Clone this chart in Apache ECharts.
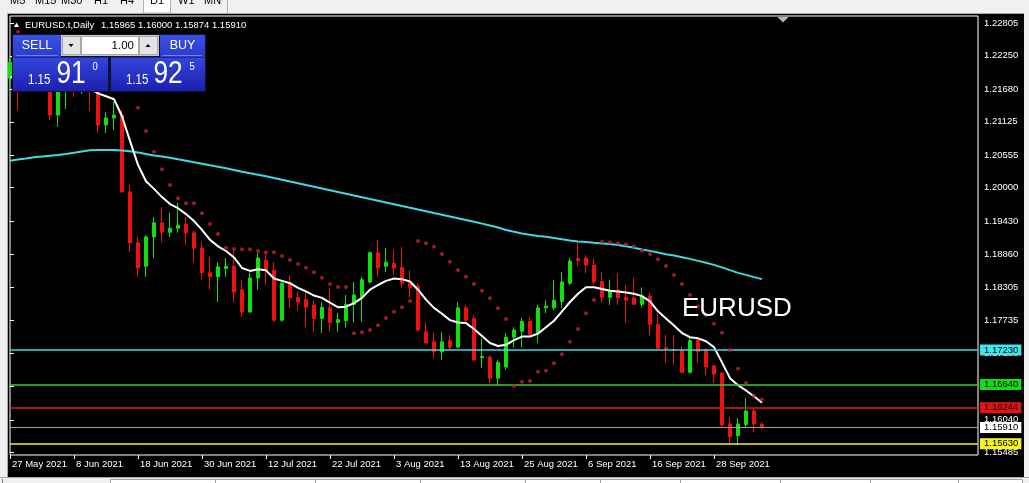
<!DOCTYPE html>
<html><head><meta charset="utf-8">
<script src="https://cdn.jsdelivr.net/npm/echarts@6/dist/echarts.min.js"></script>
<style>html,body{margin:0;padding:0;background:#f0f0f0;overflow:hidden}#c{width:1029px;height:483px;}</style>
</head><body><div id="c"></div>
<script>
const dates = ['27 May 2021','28 May 2021','31 May 2021','1 Jun 2021','2 Jun 2021','3 Jun 2021','4 Jun 2021','7 Jun 2021','8 Jun 2021','9 Jun 2021',
'10 Jun 2021','11 Jun 2021','14 Jun 2021','15 Jun 2021','16 Jun 2021','17 Jun 2021','18 Jun 2021','21 Jun 2021','22 Jun 2021','23 Jun 2021',
'24 Jun 2021','25 Jun 2021','28 Jun 2021','29 Jun 2021','30 Jun 2021','1 Jul 2021','2 Jul 2021','5 Jul 2021','6 Jul 2021','7 Jul 2021',
'8 Jul 2021','9 Jul 2021','12 Jul 2021','13 Jul 2021','14 Jul 2021','15 Jul 2021','16 Jul 2021','19 Jul 2021','20 Jul 2021','21 Jul 2021',
'22 Jul 2021','23 Jul 2021','26 Jul 2021','27 Jul 2021','28 Jul 2021','29 Jul 2021','30 Jul 2021','2 Aug 2021','3 Aug 2021','4 Aug 2021',
'5 Aug 2021','6 Aug 2021','9 Aug 2021','10 Aug 2021','11 Aug 2021','12 Aug 2021','13 Aug 2021','16 Aug 2021','17 Aug 2021','18 Aug 2021',
'19 Aug 2021','20 Aug 2021','23 Aug 2021','24 Aug 2021','25 Aug 2021','26 Aug 2021','27 Aug 2021','30 Aug 2021','31 Aug 2021','1 Sep 2021',
'2 Sep 2021','3 Sep 2021','6 Sep 2021','7 Sep 2021','8 Sep 2021','9 Sep 2021','10 Sep 2021','13 Sep 2021','14 Sep 2021','15 Sep 2021',
'16 Sep 2021','17 Sep 2021','20 Sep 2021','21 Sep 2021','22 Sep 2021','23 Sep 2021','24 Sep 2021','27 Sep 2021','28 Sep 2021','29 Sep 2021',
'30 Sep 2021','1 Oct 2021','4 Oct 2021','5 Oct 2021','6 Oct 2021'];

const open = [1.2187,1.2195,1.2191,1.2225,1.2212,1.2208,1.2124,1.2167,1.2190,1.2171,
1.2180,1.2175,1.2107,1.2119,1.2124,1.1993,1.1906,1.1866,1.1916,1.1940,
1.1924,1.1931,1.1938,1.1923,1.1897,1.1855,1.1848,1.1862,1.1866,1.1826,
1.1788,1.1846,1.1876,1.1859,1.1774,1.1837,1.1813,1.1809,1.1800,1.1777,
1.1795,1.1770,1.1773,1.1801,1.1813,1.1839,1.1889,1.1866,1.1871,1.1864,
1.1837,1.1832,1.1754,1.1737,1.1720,1.1739,1.1728,1.1795,1.1777,1.1710,
1.1711,1.1675,1.1694,1.1745,1.1755,1.1772,1.1752,1.1795,1.1795,1.1806,
1.1837,1.1879,1.1880,1.1868,1.1840,1.1813,1.1825,1.1813,1.1812,1.1801,
1.1815,1.1767,1.1727,1.1724,1.1722,1.1685,1.1740,1.1723,1.1696,1.1684,
1.1597,1.1577,1.1596,1.1619,1.15965];
const high = [1.2225,1.2213,1.2244,1.2255,1.2230,1.2212,1.2184,1.2195,1.2200,1.2190,
1.2195,1.2180,1.2129,1.2146,1.2133,1.2005,1.1916,1.1919,1.1950,1.1967,
1.1957,1.1974,1.1950,1.1926,1.1907,1.1882,1.1873,1.1880,1.1894,1.1843,
1.1855,1.1889,1.1889,1.1873,1.1842,1.1851,1.1822,1.1822,1.1808,1.1805,
1.1830,1.1787,1.1817,1.1839,1.1848,1.1891,1.1911,1.1897,1.1894,1.1899,
1.1859,1.1837,1.1770,1.1752,1.1754,1.1749,1.1805,1.1800,1.1782,1.1743,
1.1714,1.1706,1.1752,1.1762,1.1778,1.1779,1.1800,1.1808,1.1843,1.1856,
1.1880,1.1907,1.1885,1.1880,1.1856,1.1843,1.1854,1.1834,1.1846,1.1830,
1.1820,1.1786,1.1749,1.1749,1.1730,1.1745,1.1745,1.1726,1.1697,1.1685,
1.1609,1.1607,1.1641,1.1624,1.16000];
const low = [1.2165,1.2132,1.2185,1.2200,1.2185,1.2116,1.2104,1.2134,1.2155,1.2160,
1.2131,1.2093,1.2093,1.2098,1.1991,1.1890,1.1848,1.1848,1.1880,1.1907,
1.1916,1.1923,1.1902,1.1873,1.1843,1.1826,1.1805,1.1848,1.1805,1.1779,
1.1786,1.1826,1.1834,1.1771,1.1771,1.1795,1.1791,1.1762,1.1754,1.1752,
1.1754,1.1754,1.1761,1.1770,1.1771,1.1837,1.1848,1.1856,1.1851,1.1830,
1.1812,1.1754,1.1733,1.1710,1.1706,1.1723,1.1726,1.1770,1.1704,1.1692,
1.1666,1.1663,1.1689,1.1728,1.1728,1.1745,1.1735,1.1786,1.1791,1.1795,
1.1834,1.1866,1.1854,1.1834,1.1803,1.1800,1.1800,1.1770,1.1800,1.1796,
1.1748,1.1723,1.1701,1.1698,1.1683,1.1683,1.1701,1.1680,1.1667,1.1590,
1.1561,1.1561,1.1590,1.1583,1.15874];
const close = [1.2214,1.2191,1.2225,1.2212,1.2208,1.2124,1.2167,1.2190,1.2171,1.2180,
1.2175,1.2107,1.2119,1.2124,1.1993,1.1906,1.1863,1.1916,1.1940,1.1924,
1.1931,1.1936,1.1923,1.1897,1.1855,1.1848,1.1865,1.1866,1.1822,1.1788,
1.1846,1.1880,1.1859,1.1774,1.1837,1.1812,1.1805,1.1796,1.1777,1.1796,
1.1770,1.1775,1.1801,1.1817,1.1843,1.1889,1.1863,1.1873,1.1863,1.1837,
1.1830,1.1757,1.1735,1.1720,1.1737,1.1728,1.1795,1.1774,1.1706,1.1712,
1.1675,1.1702,1.1745,1.1757,1.1772,1.1750,1.1795,1.1798,1.1808,1.1839,
1.1875,1.1876,1.1868,1.1839,1.1813,1.1825,1.1812,1.1808,1.1801,1.1815,
1.1767,1.1726,1.1725,1.1722,1.1685,1.1739,1.1720,1.1694,1.1682,1.1595,
1.1575,1.1597,1.1619,1.1597,1.15910];

const maFast = [1.2188,1.2190,1.2192,1.2193,1.2194,1.2190,1.2186,1.2183,1.2180,1.2176,
1.2170,1.2161,1.2156,1.2151,1.2122,1.2080,1.2039,1.2011,1.1998,1.1984,
1.1972,1.1965,1.1955,1.1943,1.1928,1.1911,1.1900,1.1892,1.1881,1.1863,
1.1858,1.1861,1.1859,1.1845,1.1841,1.1837,1.1829,1.1823,1.1816,1.1812,
1.1804,1.1796,1.1797,1.1803,1.1812,1.1826,1.1834,1.1841,1.1845,1.1844,
1.1840,1.1826,1.1809,1.1795,1.1785,1.1774,1.1770,1.1769,1.1759,1.1747,
1.1735,1.1730,1.1732,1.1740,1.1746,1.1746,1.1751,1.1762,1.1773,1.1789,
1.1805,1.1819,1.1830,1.1830,1.1827,1.1824,1.1823,1.1821,1.1819,1.1815,
1.1806,1.1789,1.1777,1.1765,1.1752,1.1745,1.1743,1.1738,1.1728,1.1702,
1.1675,1.1663,1.1654,1.1644,1.1633];

const maSlow = [1.20460,1.20481,1.20498,1.20518,1.20532,1.20546,1.20558,1.20575,1.20595,1.20617,
1.20638,1.20643,1.20643,1.20643,1.20634,1.20623,1.20600,1.20575,1.20549,1.20532,
1.20510,1.20484,1.20460,1.20435,1.20409,1.20382,1.20356,1.20331,1.20302,1.20273,
1.20246,1.20222,1.20196,1.20166,1.20137,1.20106,1.20077,1.20046,1.20017,1.19987,
1.19958,1.19927,1.19898,1.19867,1.19838,1.19808,1.19779,1.19748,1.19719,1.19688,
1.19659,1.19628,1.19599,1.19569,1.19540,1.19509,1.19480,1.19450,1.19419,1.19387,
1.19354,1.19322,1.19279,1.19250,1.19220,1.19198,1.19177,1.19165,1.19143,1.19121,
1.19101,1.19084,1.19072,1.19060,1.19050,1.19038,1.19024,1.19002,1.18976,1.18947,
1.18922,1.18893,1.18866,1.18842,1.18815,1.18786,1.18752,1.18718,1.18683,1.18641,
1.18593,1.18547,1.18513,1.18474,1.18440];

const sar = [null,1.22662,1.2255,1.2250,1.2246,1.2242,1.2236,1.2230,1.2224,1.2218,
1.2212,1.2204,1.2196,1.2188,1.2180,1.2170,1.21365,1.20967,1.20614,1.20314,
1.20046,1.19819,1.19734,1.19734,1.19563,1.19381,1.19210,1.18976,1.18954,1.18949,
1.18949,1.18920,1.18898,1.18898,1.18834,1.18766,1.18698,1.18635,1.18556,1.18464,
1.18357,1.18306,1.18306,1.17516,1.17533,1.17572,1.17652,1.17777,1.17884,1.17959,
1.18067,1.19090,1.19051,1.18993,1.18869,1.18737,1.18596,1.18481,1.18357,1.18242,
1.18113,1.17942,1.17760,1.16616,1.16690,1.16702,1.16860,1.16877,1.17004,1.17157,
1.17372,1.17589,1.17857,1.18084,1.19078,1.19068,1.19051,1.19034,1.18997,1.18925,
1.18869,1.18778,1.18664,1.18510,1.18357,1.18169,1.17976,1.17828,1.17678,1.17526,
1.17231,1.16910,1.16667,1.16449,1.16391];

const yTicks = [1.22805,1.22250,1.21680,1.21125,1.20555,1.20000,1.19430,1.18860,1.18305,1.17735,1.17180,1.16610,1.16040,1.15485];
const xTickIdx = [0,8,16,24,32,40,48,56,64,72,80,88];
const levels = [1.17230,1.16640,1.16244,1.15910,1.15630];
const headerSymbol = 'EURUSD.t,Daily';
const headerQuote = ['1.15965','1.16000','1.15874','1.15910'];
const bidParts = ['1.15','91','0'];
const askParts = ['1.15','92','5'];
const lotText = '1.00';
const periods = ['M5','M15','M30','H1','H4','D1','W1','MN'];
const chartLabel = 'EURUSD';

const F = "'Liberation Sans', Arial, sans-serif";
const lineColors = ['#3fd9e2','#3cc83c','#e41414','#a0a0a0','#f0f020'];
const boxColors = ['#3fe6f0','#10e010','#e41414','#ffffff','#f4f420'];

const chart = echarts.init(document.getElementById('c'), null, {renderer:'canvas'});

const candles = dates.map((d,i)=>[i, open[i], close[i], low[i], high[i]]);
const sarData = [];
sar.forEach((v,i)=>{ if(v!=null) sarData.push([i,v]); });

const gray = '#f0f0f0';
const G = [];
function rect(x,y,w,h,fill,stroke,z){ G.push({type:'rect', shape:{x,y,width:w,height:h}, style:{fill, stroke:stroke||null, lineWidth:1}, z:z||100, silent:true}); }
function txt(x,y,t,size,fill,opts){ opts=opts||{}; G.push({type:'text', x, y, scaleX:opts.sx||1, z:opts.z||102, silent:true,
  style:{text:t, fill, font:`${opts.weight||'normal'} ${size}px ${F}`, align:opts.align||'left', verticalAlign:opts.va||'middle'}}); }
function poly(pts,fill,z){ G.push({type:'polygon', shape:{points:pts}, style:{fill}, z:z||103, silent:true}); }

// outer chrome
rect(0,0,1029,13,gray);
rect(0,13,1029,1,'#a8a8a8');
rect(0,0,7,483,gray);
rect(7,13,1,465,'#a8a8a8');
rect(1024,0,5,483,gray);
rect(0,477,1029,6,gray);
rect(0,477,1029,1,'#a8a8a8');
rect(110.5,479.5,912,6,'#ffffff','#a0a0a0');
[215,315,420,525,600,680,780,870,958].forEach(x=>rect(x,479,1,4,'#a0a0a0'));
rect(2,479,1,4,'#808080');
// period tabs
rect(143.5,-1,27,14,'#ffffff','#b0b0b0',101);
rect(227,0,1,13,'#b0b0b0',null,101);
const tabX = [10,35,61,94,120,150,178,204];
periods.forEach((p,k)=>txt(tabX[k],6,p,11,'#000',{va:'bottom'}));
// chart shift marker
poly([[777.5,17],[788.5,17],[783,22.5]],'#b8b8b8');
// header
poly([[14,27],[16.5,22.5],[19,27]],'#ffffff');
txt(25,25.5,headerSymbol,9.5,'#ffffff');
txt(101,25.5,headerQuote.join(' '),9.5,'#ffffff');
// one-click trading panel
rect(12,34,194,58,'#101030',null,100);
G.push({type:'rect', shape:{x:13,y:35,width:48,height:22}, style:{fill:new echarts.graphic.LinearGradient(0,0,0,1,[{offset:0,color:'#3a50e4'},{offset:1,color:'#2a3cd0'}])}, z:101, silent:true});
G.push({type:'rect', shape:{x:160,y:35,width:45,height:22}, style:{fill:new echarts.graphic.LinearGradient(0,0,0,1,[{offset:0,color:'#3a50e4'},{offset:1,color:'#2a3cd0'}])}, z:101, silent:true});
rect(16,55,42,1,'#7080f0',null,101);
rect(163,55,39,1,'#7080f0',null,101);
rect(61,35,98,21,'#c8c8c8',null,101);
rect(62.5,36.5,18,18,'#e4e4e4','#a8a8a8',101);
rect(81.5,36.5,57,18,'#ffffff','#a8a8a8',101);
rect(139.5,36.5,18,18,'#e4e4e4','#a8a8a8',101);
poly([[68.5,44],[73.5,44],[71,47]],'#000000');
poly([[145.5,47],[150.5,47],[148,44]],'#000000');
txt(37,45.5,'SELL',12.5,'#ffffff',{align:'center'});
txt(182.5,45.5,'BUY',12.5,'#ffffff',{align:'center'});
txt(134,45.5,lotText,11.5,'#000000',{align:'right'});
const priceGrad = ()=>new echarts.graphic.LinearGradient(0,0,0,1,[{offset:0,color:'#3446da'},{offset:1,color:'#1c20b0'}]);
G.push({type:'rect', shape:{x:13,y:57.5,width:95,height:33.5}, style:{fill:priceGrad()}, z:101, silent:true});
G.push({type:'rect', shape:{x:111,y:57.5,width:94,height:33.5}, style:{fill:priceGrad()}, z:101, silent:true});
txt(28,80.5,bidParts[0],14,'#ffffff',{sx:0.82});
txt(56.5,74,bidParts[1],32,'#ffffff',{sx:0.82});
txt(92.5,66.5,bidParts[2],11.5,'#ffffff',{sx:0.82});
txt(126,80.5,askParts[0],14,'#ffffff',{sx:0.82});
txt(153.5,74,askParts[1],32,'#ffffff',{sx:0.82});
txt(189.5,66.5,askParts[2],11.5,'#ffffff',{sx:0.82});
// big label
txt(682,308.5,chartLabel,26,'#ffffff',{z:50});

const option = {
  backgroundColor:'#000000',
  animation:false,
  grid:{left:10, top:16, width:968, height:439, show:true, borderColor:'#ffffff', borderWidth:1, backgroundColor:'transparent'},
  xAxis:{type:'value', min:0, max:121, axisLine:{show:false}, splitLine:{show:false},
    axisTick:{show:true, customValues:xTickIdx, length:4, lineStyle:{color:'#ffffff'}},
    axisLabel:{customValues:xTickIdx, formatter:v=>dates[v]||'', color:'#ffffff', fontSize:9.5, fontFamily:F, align:'left', margin:4, padding:[0,0,0,2]}},
  yAxis:{type:'value', position:'right', min:1.15439, max:1.22930, axisLine:{show:false}, splitLine:{show:false},
    axisTick:{show:true, customValues:yTicks, length:4, lineStyle:{color:'#ffffff'}},
    axisLabel:{customValues:yTicks, formatter:v=>Number(v).toFixed(5), color:'#ffffff', fontSize:9.5, fontFamily:F, margin:6}},
  graphic: G,
  series:[
    {type:'candlestick', data:candles, encode:{x:0, y:[1,2,3,4]}, barWidth:4, clip:false, z:2, silent:true,
      itemStyle:{color:'#10e010', color0:'#f01010', borderColor:'#10e010', borderColor0:'#f01010', borderWidth:1}},
    {type:'line', data:maSlow.map((v,i)=>[i,v]), symbol:'none', showSymbol:false, lineStyle:{color:'#3fd9e2', width:2}, z:3, silent:true,
      markLine:{silent:true, symbol:['none','none'], animation:false,
        data: levels.map((v,k)=>[
          {coord:[0,v], lineStyle:{color:lineColors[k], width:(k===3?1:1.6), type:'solid'},
           label:{show:true, position:'end', distance:2, formatter:v.toFixed(5), backgroundColor:boxColors[k], color:'#000000', fontSize:9.5, fontFamily:F, padding:[1,3,0,4], lineHeight:10}},
          {coord:[121,v]}])}},
    {type:'line', data:maFast.map((v,i)=>[i,v]), symbol:'none', showSymbol:false, lineStyle:{color:'#ffffff', width:2}, z:4, silent:true},
    {type:'scatter', data:sarData, symbol:'circle', symbolSize:4, itemStyle:{color:'#c42028'}, z:5, silent:true}
  ]
};
chart.setOption(option);
</script>
</body></html>
